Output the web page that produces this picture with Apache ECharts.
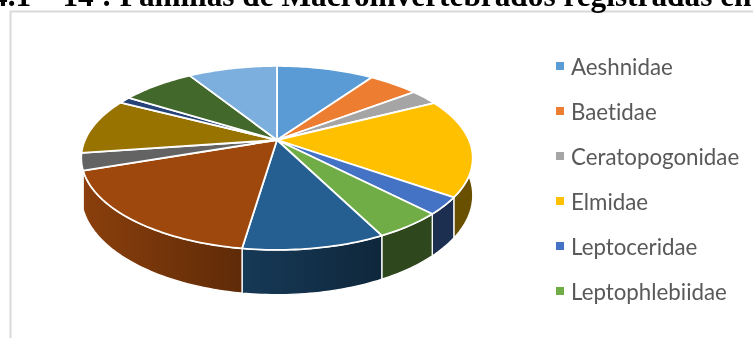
<!DOCTYPE html>
<html><head><meta charset="utf-8">
<style>html,body{margin:0;padding:0;background:#fff;overflow:hidden}#c{width:753px;height:338px;filter:blur(0.55px)}#c text{font-variant-ligatures:none}</style>
<script src="https://cdn.jsdelivr.net/npm/echarts@6/dist/echarts.min.js"></script>
</head><body><div id="c"></div>
<script>
const categories = ['Aeshnidae','Baetidae','Ceratopogonidae','Elmidae','Leptoceridae','Leptophlebiidae'];
const hiddenCategories = ['s/n 7','s/n 8','s/n 9','s/n 10','s/n 11','s/n 12','s/n 13'];
const values = [9.7,5.0,2.8,17.3,3.0,4.8,9.8,17.4,3.0,9.9,1.2,7.3,8.9];
const palette = ['#5B9BD5','#ED7D31','#A5A5A5','#FFC000','#4472C4','#70AD47','#255E91','#9E480E','#636363','#997300','#264478','#43682B','#7CAFDD'];
const titleText = '4.1 – 14 : Familias de Macroinvertebrados registradas en';

const names = categories.concat(hiddenCategories);
const total = values.reduce((a,b)=>a+b,0);
const CX=277, CY=140, R=192, RY=88.5, K=0.195, DEPTH=36;
function persp(p){
  const u=(p[0]-CX)/R, v=(p[1]-CY)/R, s=1/(1-K*v);
  return {x:CX+R*u*s, y:CY+RY*v*s, s};
}
function mul(hex,f){
  const n=parseInt(hex.slice(1),16);
  const c=[n>>16,(n>>8)&255,n&255].map(x=>Math.round(x*f));
  return 'rgb('+c.join(',')+')';
}
function shadeAt(x){
  if(x<=243) return 0.87+(x-84)/(243-84)*(0.6-0.87);
  if(x<=378) return 0.6+(x-243)/(378-243)*(0.36-0.6);
  return 0.41;
}
const WALL_FROM = total*0.25, WALL_TO = total*0.697;
function rim(api,a0,a1){
  const n=Math.max(2,Math.ceil((a1-a0)*3)), out=[];
  for(let i=0;i<=n;i++) out.push(persp(api.coord([1,a0+(a1-a0)*i/n])));
  return out;
}
function makeRender(color){
  return function(params,api){
    const a0=api.value(0), a1=api.value(1);
    const children=[];
    const w0=Math.max(a0,WALL_FROM), w1=Math.min(a1,WALL_TO);
    if(w1>w0){
      const r=rim(api,w0,w1);
      const top=r.map(p=>[p.x,p.y]);
      const bot=r.map(p=>[p.x,p.y+DEPTH*p.s]).reverse();
      const xs=r.map(p=>p.x), xl=Math.min(...xs), xr=Math.max(...xs);
      children.push({type:'polygon',shape:{points:top.concat(bot)},
        style:{fill:new echarts.graphic.LinearGradient(0,0,1,0,[
          {offset:0,color:mul(color,shadeAt(xl))},{offset:1,color:mul(color,shadeAt(xr))}]),
          stroke:'#fff',lineWidth:1.3}});
    }
    const c=persp(api.coord([0,a0]));
    const pts=[[c.x,c.y]].concat(rim(api,a0,a1).map(p=>[p.x,p.y]));
    children.push({type:'polygon',shape:{points:pts},
      style:{fill:color,stroke:'#fff',lineWidth:1.8,lineJoin:'round'}});
    return {type:'group',children};
  };
}
let acc=0;
const series=values.map((v,i)=>{
  const d=[acc,acc+v]; acc+=v;
  return {type:'custom',name:names[i],coordinateSystem:'polar',silent:true,animation:false,
    itemStyle:{color:palette[i]},encode:{radius:0,angle:1},
    data:[d],renderItem:makeRender(palette[i])};
});
const chart=echarts.init(document.getElementById('c'),null,{renderer:'svg'});
chart.setOption({
  animation:false,backgroundColor:'#fff',
  title:{text:titleText,left:-13,top:-25,textStyle:{fontFamily:'Liberation Serif',fontWeight:'bold',fontSize:31.3,color:'#000'}},
  polar:{center:[CX,CY],radius:R},
  angleAxis:{type:'value',min:0,max:total,startAngle:90,show:false},
  radiusAxis:{type:'value',min:0,max:1,show:false},
  legend:{data:categories,orient:'vertical',left:551,top:50,icon:'rect',itemWidth:8,itemHeight:8,itemGap:23,
    selectedMode:false,textStyle:{fontFamily:'Lato',fontSize:22.3,color:'#595959',lineHeight:21,padding:[-2,0,0,2]}},
  graphic:[{type:'polyline',silent:true,shape:{points:[[10.5,338],[10.5,11.5],[753,11.5]]},style:{fill:null,stroke:'#d9d9d9',lineWidth:2}}],
  series
});
</script></body></html>
